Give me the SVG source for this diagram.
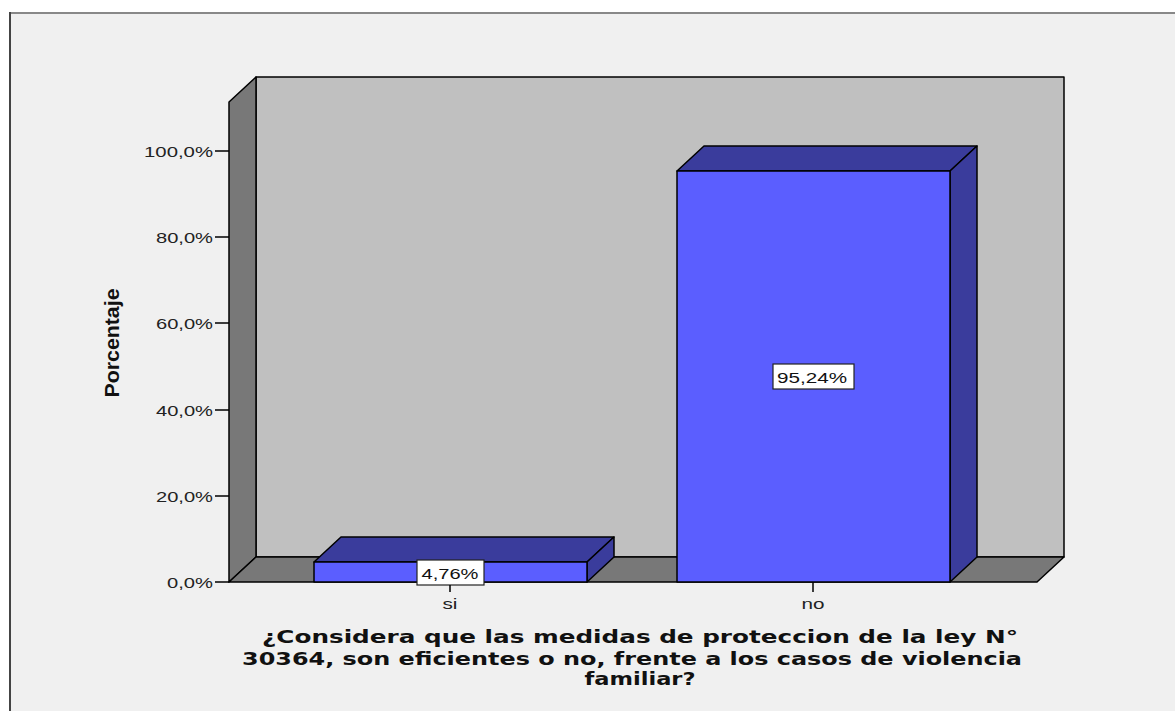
<svg xmlns="http://www.w3.org/2000/svg" width="1175" height="711" viewBox="0 0 1175 711">
<style>
.ln{stroke:#000;stroke-width:1.5;stroke-linejoin:round}
.wall{fill:#c0c0c0}
.dark{fill:#787878}
.front{fill:#5b5eff}
.top{fill:#3a3c9c}
.tk{font-family:"Liberation Sans",Arial,sans-serif;font-size:15px;fill:#222}
.lbl{font-family:"Liberation Sans",Arial,sans-serif;font-size:15px;fill:#111}
.ttl{font-family:"DejaVu Sans","Liberation Sans",sans-serif;font-size:17px;font-weight:bold;fill:#111}
</style>
<rect x="0" y="0" width="1175" height="711" fill="#ffffff"/>
<rect x="10" y="13" width="1170" height="710" fill="#f0f0f0"/>
<line x1="9" y1="13" x2="1175" y2="13" stroke="#888" stroke-width="2"/>
<line x1="10" y1="12" x2="10" y2="711" stroke="#444" stroke-width="2"/>
<g id="chart-frame">
<rect class="wall ln" x="256" y="77" width="808" height="480"/>
<polygon class="dark ln" points="229,582 229,102 256,77 256,557"/>
<polygon class="dark ln" points="229,582 256,557 1064,557 1037,582"/>
</g>
<g id="y-axis">
<g stroke="#000" stroke-width="1.5">
<line x1="215" y1="582" x2="229" y2="582"/>
<line x1="215" y1="496" x2="229" y2="496"/>
<line x1="215" y1="410" x2="229" y2="410"/>
<line x1="215" y1="323" x2="229" y2="323"/>
<line x1="215" y1="237" x2="229" y2="237"/>
<line x1="215" y1="151" x2="229" y2="151"/>
</g>
<g class="tk" text-anchor="end">
<text x="213" y="588" textLength="46" lengthAdjust="spacingAndGlyphs">0,0%</text>
<text x="213" y="502" textLength="57" lengthAdjust="spacingAndGlyphs">20,0%</text>
<text x="213" y="416" textLength="57" lengthAdjust="spacingAndGlyphs">40,0%</text>
<text x="213" y="329" textLength="57" lengthAdjust="spacingAndGlyphs">60,0%</text>
<text x="213" y="243" textLength="57" lengthAdjust="spacingAndGlyphs">80,0%</text>
<text x="213" y="157" textLength="69" lengthAdjust="spacingAndGlyphs">100,0%</text>
</g>
<text transform="translate(119,343) rotate(-90)" text-anchor="middle" font-family="'Liberation Sans Narrow','Liberation Sans',Arial,sans-serif" font-size="21" font-weight="bold" fill="#111" textLength="109" lengthAdjust="spacingAndGlyphs">Porcentaje</text>
</g>
<g id="bar-si">
<polygon class="top ln" points="314,562 341,537 614,537 587,562"/>
<polygon class="top ln" points="587,562 614,537 614,557 587,582"/>
<rect class="front ln" x="314" y="562" width="273" height="20"/>
<rect x="417" y="560" width="67" height="25" fill="#fff" stroke="#222" stroke-width="1.2"/>
<text class="lbl" x="450" y="579" text-anchor="middle" textLength="57" lengthAdjust="spacingAndGlyphs">4,76%</text>
<line x1="450" y1="585" x2="450" y2="592" stroke="#000" stroke-width="1.5"/>
<text class="tk" x="450" y="609" text-anchor="middle" textLength="15" lengthAdjust="spacingAndGlyphs">si</text>
</g>
<g id="bar-no">
<polygon class="top ln" points="677,171 704,146 977,146 950,171"/>
<polygon class="top ln" points="950,171 977,146 977,557 950,582"/>
<rect class="front ln" x="677" y="171" width="273" height="411"/>
<rect x="773" y="364" width="81" height="25" fill="#fff" stroke="#222" stroke-width="1.2"/>
<text class="lbl" x="812" y="383" text-anchor="middle" textLength="70" lengthAdjust="spacingAndGlyphs">95,24%</text>
<line x1="813" y1="582" x2="813" y2="592" stroke="#000" stroke-width="1.5"/>
<text class="tk" x="813" y="609" text-anchor="middle" textLength="23" lengthAdjust="spacingAndGlyphs">no</text>
</g>
<g id="x-title" class="ttl" text-anchor="middle">
<text x="640" y="643" textLength="756" lengthAdjust="spacingAndGlyphs">¿Considera que las medidas de proteccion de la ley N°</text>
<text x="632" y="665" textLength="780" lengthAdjust="spacingAndGlyphs">30364, son eficientes o no, frente a los casos de violencia</text>
<text x="640" y="685" textLength="111" lengthAdjust="spacingAndGlyphs">familiar?</text>
</g>
<g id="connectors"></g>
</svg>
